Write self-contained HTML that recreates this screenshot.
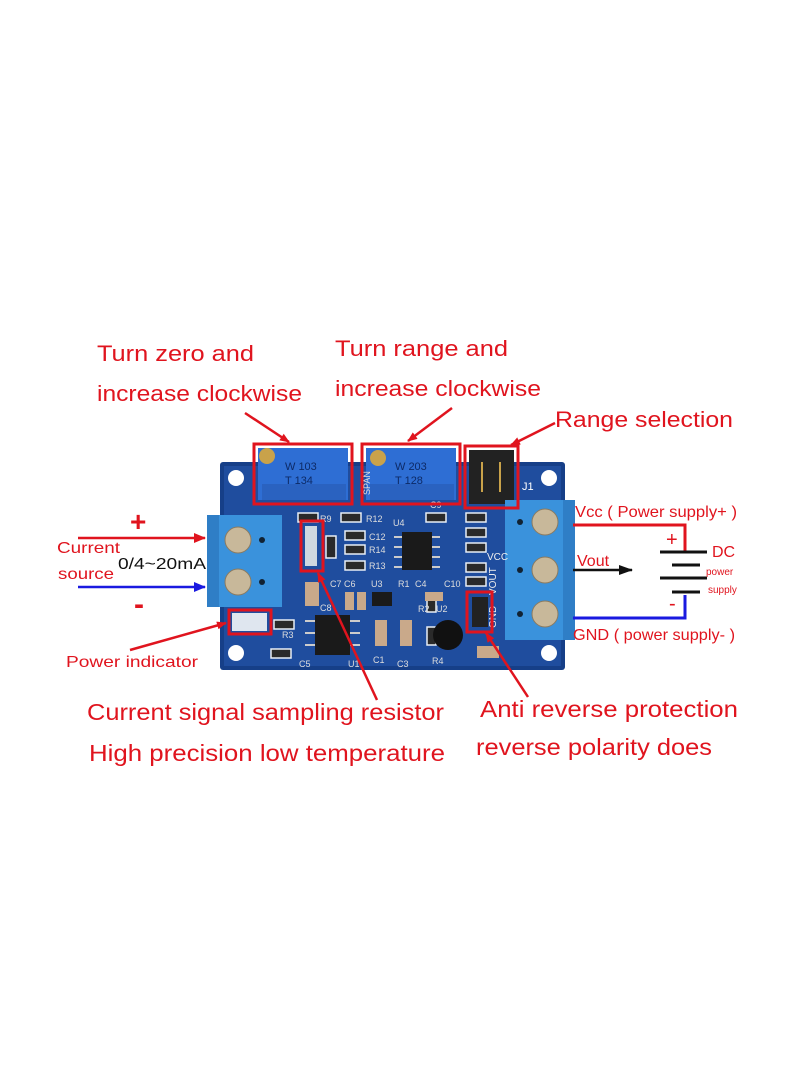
<!DOCTYPE html>
<html><head><meta charset="utf-8"><style>
html,body{margin:0;padding:0;background:#fff;width:810px;height:1080px;overflow:hidden}
svg{display:block}
text{font-family:"Liberation Sans",sans-serif}
</style></head><body>
<svg width="810" height="1080" viewBox="0 0 810 1080" xmlns="http://www.w3.org/2000/svg">
<defs>
<marker id="ar" markerWidth="10" markerHeight="8" refX="9" refY="4" orient="auto" markerUnits="userSpaceOnUse"><path d="M0,0 L10,4 L0,8 z" fill="#e0141e"/></marker>
<marker id="ab" markerWidth="12" markerHeight="10" refX="11" refY="5" orient="auto" markerUnits="userSpaceOnUse"><path d="M0,0 L12,5 L0,10 z" fill="#1a1ae0"/></marker>
<marker id="ar2" markerWidth="12" markerHeight="10" refX="11" refY="5" orient="auto" markerUnits="userSpaceOnUse"><path d="M0,0 L12,5 L0,10 z" fill="#e0141e"/></marker>
<marker id="ak" markerWidth="14" markerHeight="10" refX="13" refY="5" orient="auto" markerUnits="userSpaceOnUse"><path d="M0,0 L14,5 L0,10 z" fill="#111"/></marker>
</defs>
<!-- board -->
<rect x="220" y="462" width="345" height="208" fill="#163f88" rx="3"/>
<rect x="224" y="466" width="337" height="200" fill="#1f4d9e"/>
<g fill="#fff"><circle cx="236" cy="478" r="8"/><circle cx="549" cy="478" r="8"/><circle cx="236" cy="653" r="8"/><circle cx="549" cy="653" r="8"/></g>
<!-- pots -->
<rect x="258" y="448" width="90" height="52" fill="#2e6ed4"/>
<rect x="262" y="484" width="84" height="16" fill="#2a62c0"/>
<circle cx="267" cy="456" r="8" fill="#c9a24a"/>
<text x="285" y="470" font-size="11" fill="#0d2a66">W 103</text>
<text x="285" y="484" font-size="11" fill="#0d2a66">T 134</text>
<rect x="366" y="448" width="90" height="52" fill="#2e6ed4"/>
<rect x="370" y="484" width="84" height="16" fill="#2a62c0"/>
<circle cx="378" cy="458" r="8" fill="#c9a24a"/>
<text x="395" y="470" font-size="11" fill="#0d2a66">W 203</text>
<text x="395" y="484" font-size="11" fill="#0d2a66">T 128</text>
<text x="355" y="500" font-size="9" fill="#ddd" transform="rotate(-90 360 490)">SPAN</text>
<!-- jumper -->
<rect x="469" y="450" width="45" height="54" fill="#222"/>
<g stroke="#c9a24a" stroke-width="2"><line x1="482" y1="462" x2="482" y2="492"/><line x1="500" y1="462" x2="500" y2="492"/></g>
<text x="522" y="490" font-size="11" fill="#fff">J1</text>
<!-- terminal blocks -->
<rect x="207" y="515" width="75" height="92" fill="#3a92dc"/>
<rect x="207" y="515" width="12" height="92" fill="#2f7ec6"/>
<circle cx="238" cy="540" r="13" fill="#c8b89a" stroke="#8a7a60"/>
<circle cx="238" cy="582" r="13" fill="#c8b89a" stroke="#8a7a60"/>
<circle cx="262" cy="540" r="3" fill="#123"/><circle cx="262" cy="582" r="3" fill="#123"/>
<rect x="505" y="500" width="70" height="140" fill="#3a92dc"/>
<rect x="563" y="500" width="12" height="140" fill="#2f7ec6"/>
<circle cx="545" cy="522" r="13" fill="#c8b89a" stroke="#8a7a60"/>
<circle cx="545" cy="570" r="13" fill="#c8b89a" stroke="#8a7a60"/>
<circle cx="545" cy="614" r="13" fill="#c8b89a" stroke="#8a7a60"/>
<circle cx="520" cy="522" r="3" fill="#123"/><circle cx="520" cy="570" r="3" fill="#123"/><circle cx="520" cy="614" r="3" fill="#123"/>
<!-- SMD resistors (white outline) -->
<g fill="#2a2a2a" stroke="#e8eef5" stroke-width="1.5">
<rect x="298" y="513" width="20" height="9"/>
<rect x="341" y="513" width="20" height="9"/>
<rect x="345" y="531" width="20" height="9"/>
<rect x="345" y="545" width="20" height="9"/>
<rect x="345" y="561" width="20" height="9"/>
<rect x="426" y="513" width="20" height="9"/>
<rect x="466" y="513" width="20" height="9"/>
<rect x="466" y="528" width="20" height="9"/>
<rect x="466" y="543" width="20" height="9"/>
<rect x="466" y="563" width="20" height="9"/>
<rect x="466" y="577" width="20" height="9"/>
<rect x="274" y="620" width="20" height="9"/>
<rect x="271" y="649" width="20" height="9"/>
<rect x="427" y="594" width="9" height="18"/>
<rect x="427" y="627" width="9" height="18"/>
<rect x="326" y="536" width="10" height="22"/>
</g>
<!-- IC legs -->
<g fill="#ccc"><rect x="394" y="536" width="8" height="2"/><rect x="394" y="546" width="8" height="2"/><rect x="394" y="556" width="8" height="2"/><rect x="394" y="566" width="8" height="2"/>
<rect x="432" y="536" width="8" height="2"/><rect x="432" y="546" width="8" height="2"/><rect x="432" y="556" width="8" height="2"/><rect x="432" y="566" width="8" height="2"/>
<rect x="305" y="620" width="10" height="2"/><rect x="305" y="632" width="10" height="2"/><rect x="305" y="644" width="10" height="2"/><rect x="350" y="620" width="10" height="2"/><rect x="350" y="632" width="10" height="2"/><rect x="350" y="644" width="10" height="2"/></g>
<rect x="402" y="532" width="30" height="38" fill="#1a1a1a"/>
<rect x="315" y="615" width="35" height="40" fill="#1a1a1a"/>
<rect x="372" y="592" width="20" height="14" fill="#1a1a1a"/>
<circle cx="448" cy="635" r="15" fill="#111"/>
<rect x="472" y="597" width="16" height="30" fill="#222"/>
<rect x="305" y="526" width="12" height="40" fill="#cfd8e0"/>
<g fill="#c9a98a"><rect x="305" y="582" width="14" height="24"/><rect x="375" y="620" width="12" height="26"/><rect x="400" y="620" width="12" height="26"/><rect x="477" y="646" width="22" height="12"/><rect x="345" y="592" width="9" height="18"/><rect x="357" y="592" width="9" height="18"/><rect x="425" y="592" width="18" height="9"/></g>
<g fill="#ddd" font-size="9"><text x="320" y="522">R9</text><text x="366" y="522">R12</text><text x="369" y="540">C12</text><text x="369" y="553">R14</text><text x="369" y="569">R13</text><text x="393" y="526">U4</text><text x="430" y="508">C9</text><text x="487" y="560" fill="#eee" font-size="10">VCC</text><text x="282" y="638">R3</text><text x="299" y="667">C5</text><text x="348" y="667">U1</text><text x="373" y="663">C1</text><text x="397" y="667">C3</text><text x="432" y="664">R4</text><text x="371" y="587">U3</text><text x="398" y="587">R1</text><text x="415" y="587">C4</text><text x="418" y="612">R2</text><text x="436" y="612">U2</text><text x="444" y="587">C10</text><text x="330" y="587">C7 C6</text><text x="320" y="611">C8</text></g>
<text x="0" y="0" font-size="10" fill="#eee" transform="translate(496 595) rotate(-90)">VOUT</text>
<text x="0" y="0" font-size="10" fill="#eee" transform="translate(496 628) rotate(-90)">GND</text>
<rect x="232" y="613" width="35" height="18" fill="#dfe6ef"/>
<!-- red boxes -->
<g fill="none" stroke="#e0141e" stroke-width="3">
<rect x="254" y="444" width="98" height="60"/>
<rect x="362" y="444" width="98" height="60"/>
<rect x="465" y="446" width="53" height="62"/>
<rect x="301" y="521" width="22" height="50"/>
<rect x="229" y="610" width="42" height="24"/>
<rect x="467" y="592" width="25" height="40"/>
</g>
<!-- pointer arrows -->
<g stroke="#e0141e" stroke-width="2.5" fill="none">
<line x1="245" y1="413" x2="289" y2="442" marker-end="url(#ar)"/>
<line x1="452" y1="408" x2="408" y2="441" marker-end="url(#ar)"/>
<line x1="555" y1="423" x2="511" y2="445" marker-end="url(#ar)"/>
<line x1="377" y1="700" x2="318" y2="573" marker-end="url(#ar)"/>
<line x1="528" y1="697" x2="486" y2="633" marker-end="url(#ar)"/>
<line x1="130" y1="650" x2="226" y2="623" marker-end="url(#ar)"/>
<line x1="78" y1="538" x2="205" y2="538" marker-end="url(#ar2)"/>
</g>
<line x1="78" y1="587" x2="205" y2="587" stroke="#1a1ae0" stroke-width="2.5" marker-end="url(#ab)"/>
<!-- power circuit -->
<polyline points="573,525 685,525 685,552" fill="none" stroke="#e0141e" stroke-width="3"/>
<polyline points="685,595 685,618 573,618" fill="none" stroke="#1a1ae0" stroke-width="3"/>
<g stroke="#111" stroke-width="3"><line x1="660" y1="552" x2="707" y2="552"/><line x1="672" y1="565" x2="700" y2="565"/><line x1="660" y1="578" x2="707" y2="578"/><line x1="672" y1="592" x2="700" y2="592"/></g>
<line x1="573" y1="570" x2="632" y2="570" stroke="#111" stroke-width="2.5" marker-end="url(#ak)"/>
<!-- labels -->
<g fill="#e0141e">
<text x="97" y="361" font-size="22" textLength="157" lengthAdjust="spacingAndGlyphs">Turn zero and</text>
<text x="97" y="401" font-size="22" textLength="205" lengthAdjust="spacingAndGlyphs">increase clockwise</text>
<text x="335" y="356" font-size="22" textLength="173" lengthAdjust="spacingAndGlyphs">Turn range and</text>
<text x="335" y="396" font-size="22" textLength="206" lengthAdjust="spacingAndGlyphs">increase clockwise</text>
<text x="555" y="427" font-size="22" textLength="178" lengthAdjust="spacingAndGlyphs">Range selection</text>
<text x="87" y="720" font-size="23" textLength="357" lengthAdjust="spacingAndGlyphs">Current signal sampling resistor</text>
<text x="89" y="761" font-size="23" textLength="356" lengthAdjust="spacingAndGlyphs">High precision low temperature</text>
<text x="480" y="717" font-size="23" textLength="258" lengthAdjust="spacingAndGlyphs">Anti reverse protection</text>
<text x="476" y="755" font-size="23" textLength="236" lengthAdjust="spacingAndGlyphs">reverse polarity does</text>
<text x="66" y="667" font-size="16" textLength="132" lengthAdjust="spacingAndGlyphs">Power indicator</text>
<text x="57" y="553" font-size="16" textLength="63" lengthAdjust="spacingAndGlyphs">Current</text>
<text x="58" y="579" font-size="16" textLength="56" lengthAdjust="spacingAndGlyphs">source</text>
<text x="130" y="531" font-size="28" font-weight="bold">+</text>
<text x="134" y="614" font-size="30" font-weight="bold">-</text>
<text x="575" y="517" font-size="16" textLength="162" lengthAdjust="spacingAndGlyphs">Vcc ( Power supply+ )</text>
<text x="577" y="566" font-size="16">Vout</text>
<text x="573" y="640" font-size="16" textLength="162" lengthAdjust="spacingAndGlyphs">GND ( power supply- )</text>
<text x="666" y="546" font-size="20">+</text>
<text x="669" y="610" font-size="20">-</text>
<text x="712" y="557" font-size="16">DC</text>
<text x="706" y="575" font-size="10">power</text>
<text x="708" y="593" font-size="10">supply</text>
</g>
<text x="118" y="569" font-size="16" fill="#111" textLength="88" lengthAdjust="spacingAndGlyphs">0/4~20mA</text>
</svg>
</body></html>
